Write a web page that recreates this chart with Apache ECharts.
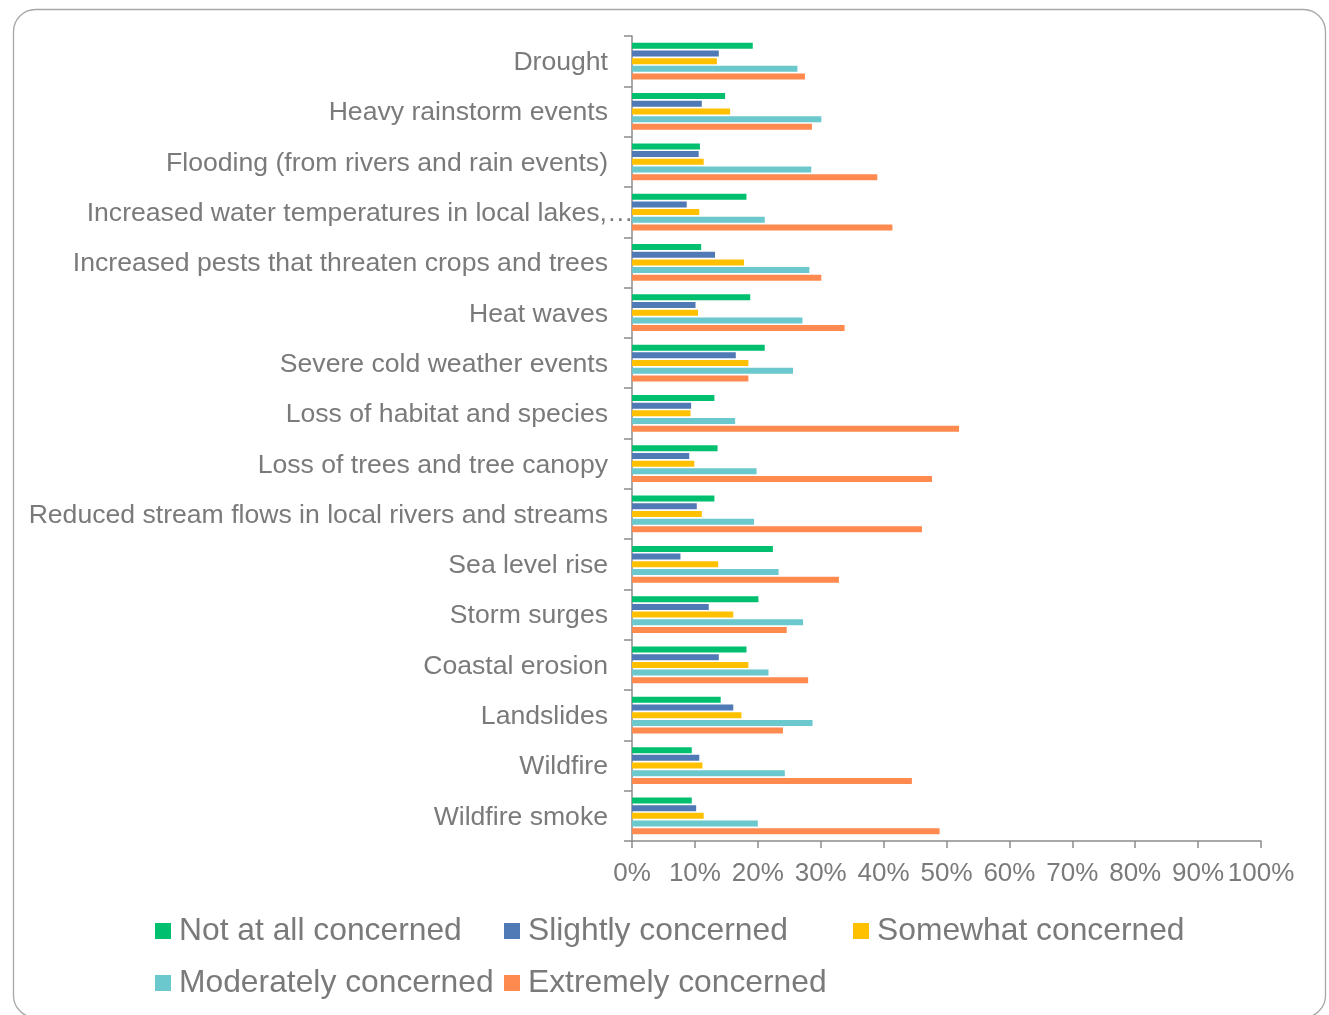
<!DOCTYPE html>
<html>
<head>
<meta charset="utf-8">
<script src="https://cdn.jsdelivr.net/npm/echarts@6/dist/echarts.min.js"></script>
<style>
  html, body { margin: 0; padding: 0; background: #ffffff; }
  #chart { width: 1329px; height: 1015px; }
</style>
</head>
<body>
<div id="chart"></div>
<script>
// Climate hazards and level of concern (share of respondents)
const categories = [
  'Drought',
  'Heavy rainstorm events',
  'Flooding (from rivers and rain events)',
  'Increased water temperatures in local lakes,…',
  'Increased pests that threaten crops and trees',
  'Heat waves',
  'Severe cold weather events',
  'Loss of habitat and species',
  'Loss of trees and tree canopy',
  'Reduced stream flows in local rivers and streams',
  'Sea level rise',
  'Storm surges',
  'Coastal erosion',
  'Landslides',
  'Wildfire',
  'Wildfire smoke'
];

const seriesNames = [
  'Not at all concerned',
  'Slightly concerned',
  'Somewhat concerned',
  'Moderately concerned',
  'Extremely concerned'
];

const notAtAll   = [19.2, 14.8, 10.8, 18.2, 11.0, 18.8, 21.1, 13.1, 13.6, 13.1, 22.4, 20.1, 18.2, 14.1,  9.5,  9.5];
const slightly   = [13.8, 11.1, 10.6,  8.7, 13.2, 10.1, 16.5,  9.4,  9.1, 10.3,  7.7, 12.2, 13.8, 16.1, 10.7, 10.2];
const somewhat   = [13.5, 15.6, 11.4, 10.7, 17.8, 10.5, 18.5,  9.3,  9.9, 11.1, 13.7, 16.1, 18.5, 17.4, 11.2, 11.4];
const moderately = [26.3, 30.1, 28.5, 21.1, 28.2, 27.1, 25.6, 16.4, 19.8, 19.4, 23.3, 27.2, 21.7, 28.7, 24.3, 20.0];
const extremely  = [27.5, 28.6, 39.0, 41.4, 30.1, 33.8, 18.5, 52.0, 47.7, 46.1, 32.9, 24.6, 28.0, 24.0, 44.5, 48.9];

const xTicks = [0, 10, 20, 30, 40, 50, 60, 70, 80, 90, 100];

const colors = ['#00bf6f', '#4f7ab5', '#ffc000', '#6bc8cc', '#ff8a4f'];
const values = [notAtAll, slightly, somewhat, moderately, extremely];

const textGray = '#7a7a7a';
const axisGray = '#8c8c8c';
const font = '"Liberation Sans", Arial, sans-serif';
const labelSize = 26.6;

// A truncated label keeps its ellipsis hanging past the label margin
const labelText = { fontFamily: font, fontSize: labelSize, color: textGray, align: 'left' };

const chart = echarts.init(document.getElementById('chart'), null, { renderer: 'canvas' });

chart.setOption({
  animation: false,
  backgroundColor: '#ffffff',
  textStyle: { fontFamily: font },
  graphic: [{
    type: 'rect',
    left: 11, top: 7,
    shape: { x: 0, y: 0, width: 1312, height: 1008, r: 22 },
    style: { fill: 'none', stroke: '#a6a6a6', lineWidth: 1.3 },
    silent: true,
    z: -1
  }],
  grid: { left: 632, right: 68, top: 36, bottom: 174, containLabel: false },
  legend: {
    data: seriesNames,
    left: 155,
    top: 905,
    width: 1100,
    padding: 0,
    itemGap: 0,
    itemWidth: 16,
    itemHeight: 16,
    icon: 'rect',
    textStyle: {
      fontFamily: font,
      fontSize: 31.8,
      color: textGray,
      width: 325,
      lineHeight: 52,
      padding: [0, 0, 0, 3]
    }
  },
  xAxis: {
    type: 'value',
    min: xTicks[0],
    max: xTicks[xTicks.length - 1],
    interval: 10,
    axisLine: { show: true, lineStyle: { color: axisGray, width: 1.5 } },
    axisTick: { show: true, length: 7, lineStyle: { color: axisGray, width: 1.5 } },
    splitLine: { show: false },
    axisLabel: {
      fontFamily: font,
      fontSize: 26,
      color: textGray,
      margin: 20,
      formatter: v => v + '%'
    }
  },
  yAxis: {
    type: 'category',
    data: categories,
    inverse: true,
    axisLine: { show: true, lineStyle: { color: axisGray, width: 1.5 } },
    axisTick: { show: true, length: 8, lineStyle: { color: axisGray, width: 1.5 } },
    axisLabel: {
      fontFamily: font,
      fontSize: labelSize,
      color: textGray,
      margin: 24,
      padding: [3, 0, 0, 0],
      formatter: v => v.endsWith('…')
        ? '{t|' + v.slice(0, -1) + '}{e|…}'
        : '{t|' + v + '}',
      rich: {
        t: labelText,
        e: Object.assign({}, labelText, { width: 1 })
      }
    }
  },
  series: seriesNames.map((name, i) => ({
    name: name,
    type: 'bar',
    data: values[i],
    barWidth: 6,
    barGap: '28%',
    itemStyle: { color: colors[i] }
  }))
});
</script>
</body>
</html>
